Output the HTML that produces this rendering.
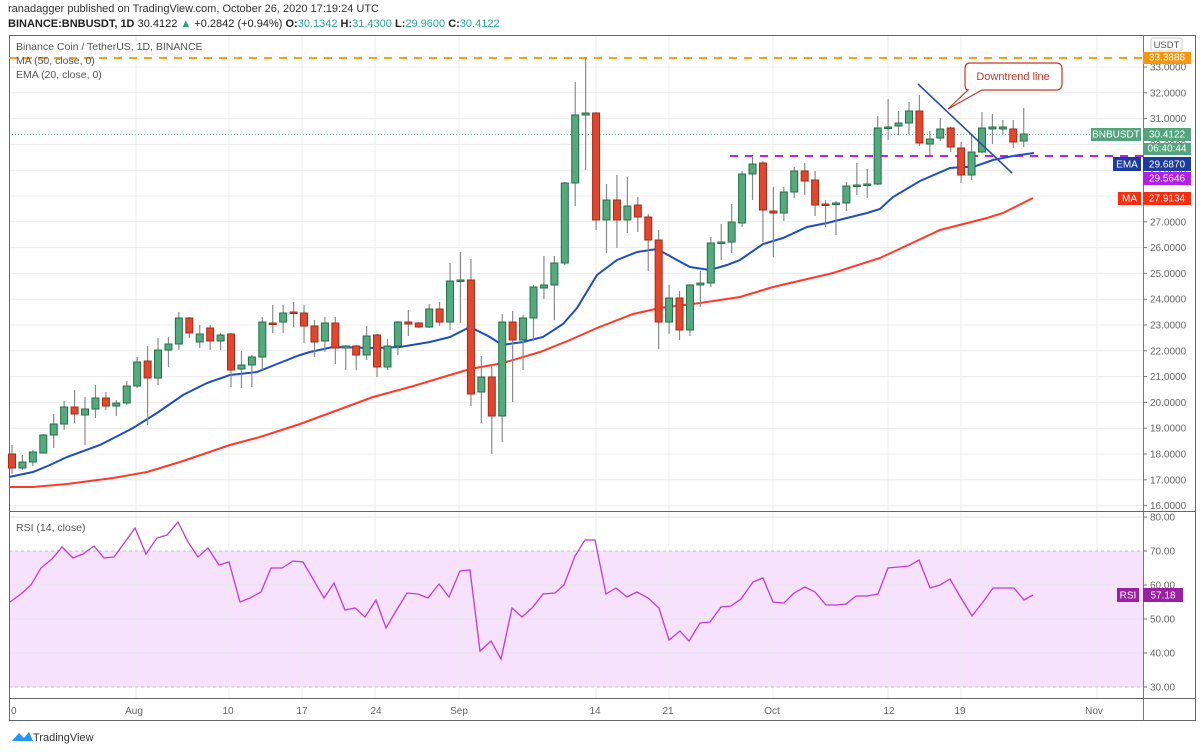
<!DOCTYPE html>
<html><head><meta charset="utf-8"><style>
html,body{margin:0;padding:0;background:#fff;width:1204px;height:752px;overflow:hidden}
svg{display:block;font-family:"Liberation Sans",sans-serif}
</style></head><body>
<svg id="s" width="1204" height="752" viewBox="0 0 1204 752" xmlns="http://www.w3.org/2000/svg">
<text x="8" y="12" font-size="11" fill="#333">ranadagger published on TradingView.com, October 26, 2020 17:19:24 UTC</text>
<text x="8" y="27" font-size="11" fill="#222"><tspan font-weight="bold">BINANCE:BNBUSDT, 1D</tspan> 30.4122 <tspan fill="#26a17b">▲</tspan> +0.2842 (+0.94%) <tspan font-weight="bold">O:</tspan><tspan fill="#26a69a">30.1342</tspan> <tspan font-weight="bold">H:</tspan><tspan fill="#26a69a">31.4300</tspan> <tspan font-weight="bold">L:</tspan><tspan fill="#26a69a">29.9600</tspan> <tspan font-weight="bold">C:</tspan><tspan fill="#26a69a">30.4122</tspan></text>
<g id="grid"></g>
<rect x="9" y="588" width="0" height="0"/>
<g id="main"></g>
</svg>
<script>
var NS="http://www.w3.org/2000/svg",S=document.getElementById('s'),G=document.getElementById('grid'),M=document.getElementById('main');
function el(p,t,a,txt){var e=document.createElementNS(NS,t);for(var k in a)e.setAttribute(k,a[k]);if(txt!=null)e.textContent=txt;p.appendChild(e);return e;}
function X(i){return 12+i*10.43;}
function Y(p){return 67+(33-p)*25.8;}
function R(r){return 517+(80-r)*3.4;}
// RSI fill
el(G,'rect',{x:9,y:R(70),width:1134,height:R(30)-R(70),fill:'#f6e2fc'});
// vertical grid
var vx=[136,229,302,375,459,596,669,773,888,961,1097];
vx.forEach(function(x){el(G,'line',{x1:x,y1:35,x2:x,y2:698,stroke:'#ececec','stroke-width':1});});
// horizontal grid price
for(var p=16;p<=33;p++){el(G,'line',{x1:9,y1:Y(p),x2:1143,y2:Y(p),stroke:'#ececec'});}
[80,60,50,40].forEach(function(r){el(G,'line',{x1:9,y1:R(r),x2:1143,y2:R(r),stroke:'#e6e6e6'});});
[70,30].forEach(function(r){el(G,'line',{x1:9,y1:R(r),x2:1143,y2:R(r),stroke:'#aaa','stroke-dasharray':'3,3','stroke-width':0.8});});
// frames
el(M,'rect',{x:9.5,y:35.5,width:1186,height:685,fill:'none',stroke:'#666'});
el(M,'line',{x1:1143.5,y1:35,x2:1143.5,y2:721,stroke:'#777'});
el(M,'line',{x1:9,y1:511.5,x2:1196,y2:511.5,stroke:'#666'});
el(M,'line',{x1:9,y1:698.5,x2:1196,y2:698.5,stroke:'#666'});
// levels
el(M,'line',{x1:9,y1:58,x2:1143,y2:58,stroke:'#f7a21b','stroke-width':2,'stroke-dasharray':'8,7'});
el(M,'line',{x1:730,y1:156,x2:1143,y2:156,stroke:'#b326f0','stroke-width':2,'stroke-dasharray':'8,7'});
el(M,'line',{x1:9,y1:134.5,x2:1143,y2:134.5,stroke:'#3fa07a','stroke-width':0.8,'stroke-dasharray':'1,2'});
// MA / EMA
var ma=[[9,487],[33,487],[67,484],[113,478],[147,472],[180,462],[230,445],[260,437],[300,424],[373,397],[410,387],[450,375],[470,369],[503,363],[540,352],[570,340],[597,328],[633,314],[660,308],[700,303],[740,297],[773,287],[833,273],[880,258],[940,230],[987,218],[1003,213],[1033,198]];
var ema=[[9,477],[33,472],[50,465],[67,457],[100,445],[133,428],[157,413],[183,395],[207,383],[230,375],[257,372],[277,364],[300,355],[310,352],[333,347],[373,348],[400,347],[430,342],[450,337],[470,327],[490,337],[502,345],[523,342],[543,337],[563,324],[577,308],[597,275],[617,260],[637,252],[657,249],[677,260],[690,267],[710,270],[727,265],[740,260],[763,244],[783,238],[807,227],[827,223],[847,218],[867,213],[880,209],[893,197],[920,181],[950,168],[963,167],[973,167],[993,160],[1013,156],[1034,153]];
function pl(a){return a.map(function(p){return p[0]+','+p[1]}).join(' ');}
el(M,'polyline',{points:pl(ma),fill:'none',stroke:'#ff3a2a','stroke-width':2});
el(M,'polyline',{points:pl(ema),fill:'none',stroke:'#1e4ec0','stroke-width':2});
// candles [top,bot,hi,lo,g]
var c=[[454,468,445,474,0],[462,468,455,470,1],[452,462,450,466,1],[435,453,434,453,1],[424,435,414,448,1],[407,424,401,430,1],[407,414,390,423,0],[409,415,397,445,1],[398,409,385,418,1],[398,406,392,410,0],[403,406,400,416,1],[386,403,381,405,1],[362,386,357,388,1],[361,378,346,425,0],[350,378,338,385,1],[344,350,337,367,1],[318,344,312,350,1],[318,333,317,338,0],[334,342,325,348,1],[328,341,325,350,0],[335,341,333,350,1],[334,370,333,387,0],[365,369,351,388,1],[357,365,355,387,1],[322,357,317,370,1],[323,324,305,333,0],[313,322,305,333,1],
[312,313,302,327,0],[313,326,305,343,0],[326,342,320,357,0],[323,341,317,352,1],[323,348,317,364,0],[346,348,345,370,1],[346,355,345,370,0],[336,355,326,360,1],[335,367,334,377,0],[346,367,339,370,1],[322,346,321,355,1],[322,324,310,336,0],[323,327,322,328,0],[309,327,304,328,1],[309,322,302,326,0],[281,322,263,330,1],[280,281,252,323,1],[280,394,259,406,0],[377,392,356,423,1],[377,416,365,454,0],[322,416,314,442,1],[322,340,311,402,0],[318,340,315,370,1],[287,318,285,341,1],[285,288,256,299,1],[263,285,256,320,1],[183,263,182,265,1],[115,183,82,206,1],[113,115,57,170,1],[113,220,112,230,0],
[200,220,184,253,1],[200,220,175,248,0],[206,220,177,233,1],[205,217,197,232,0],[217,240,214,271,0],[240,322,230,349,0],[298,322,285,334,1],[298,330,291,340,0],[285,330,284,336,1],[283,285,271,307,1],[243,283,237,287,1],[242,243,224,260,1],[222,242,204,253,1],[174,223,171,227,1],[164,174,156,200,1],[163,210,161,242,0],[211,213,187,257,0],[192,213,187,221,1],[171,192,167,198,1],[171,181,163,195,0],[180,205,171,216,0],[204,205,200,227,0],[203,204,201,235,1],[186,203,182,211,1],[185,186,163,195,1],[184,185,169,198,1],
[128,184,116,185,1],[127,128,99,140,1],[123,126,111,135,1],[111,123,102,134,1],[111,143,95,146,0],[139,144,131,155,1],[129,138,118,141,1],[128,147,127,152,0],[148,175,142,183,0],[152,175,135,180,1],[128,152,112,153,1],[127,129,114,144,1],[127,129,120,134,1],[129,142,120,148,0],[134,141,108,147,1]];
c.forEach(function(d,i){var x=X(i);
el(M,'line',{x1:x,y1:d[2],x2:x,y2:d[3],stroke:'#8a8a8a','stroke-width':1.2});
var h=Math.max(d[1]-d[0],1.5);
el(M,'rect',{x:x-3.5,y:d[0],width:7,height:h,fill:d[4]?'#55a97f':'#e2462c',stroke:d[4]?'#237047':'#a52a18','stroke-width':1});});
// downtrend
el(M,'line',{x1:918,y1:84,x2:1012,y2:173,stroke:'#2d4fa8','stroke-width':1.6});
el(M,'path',{d:'M970 63 H1056 Q1062 63 1062 69 V84 Q1062 90 1056 90 H982 L948 109 L968 90 Q965 90 965 84 V69 Q965 63 970 63 Z',fill:'#fff',stroke:'#c0392b','stroke-width':1.2});
el(M,'text',{x:1013,y:80,'font-size':11,fill:'#c0392b','text-anchor':'middle'},'Downtrend line');
// RSI
var rsi=[[10,602],[21,594],[31,585],[41,568],[52,559],[62,547],[73,558],[83,554],[94,546],[104,558],[114,557],[125,542],[135,528],[146,554],[157,538],[167,535],[178,522],[188,542],[198,557],[208,548],[219,565],[229,562],[240,602],[250,598],[261,592],[271,568],[282,568],[293,561],[303,562],[313,579],[324,598],[334,583],[345,610],[355,608],[365,617],[376,600],[386,628],[396,611],[407,593],[418,594],[428,598],[439,584],[449,597],[460,571],[470,570],[480,651],[491,641],[501,659],[512,608],[522,617],[533,607],[543,594],[555,593],[564,585],[575,556],[585,540],[595,540],[606,594],[616,588],[627,597],[637,592],[648,598],[659,608],[669,640],[680,631],[689,641],[700,623],[710,622],[721,607],[731,606],[741,599],[753,582],[763,578],[773,602],[784,603],[794,593],[805,587],[815,592],[826,605],[836,605],[846,604],[856,596],[867,596],[878,594],[888,568],[899,567],[909,566],[919,560],[930,588],[940,585],[950,579],[961,598],[972,616],[983,602],[993,588],[1004,588],[1014,588],[1024,600],[1033,595]];
el(M,'polyline',{points:pl(rsi),fill:'none',stroke:'#c23bd4','stroke-width':1.3});
// legends
[['Binance Coin / TetherUS, 1D, BINANCE',50],['MA (50, close, 0)',64],['EMA (20, close, 0)',78]].forEach(function(t){el(M,'text',{x:16,y:t[1],'font-size':10.5,fill:'#555'},t[0]);});
el(M,'text',{x:16,y:531,'font-size':10.5,fill:'#555'},'RSI (14, close)');
// price axis
for(var p=16;p<=33;p++){var y=Y(p);el(M,'line',{x1:1143,y1:y,x2:1147,y2:y,stroke:'#777'});el(M,'text',{x:1150,y:y+3.5,'font-size':10,fill:'#666'},p.toFixed(4));}
[80,70,60,50,40,30].forEach(function(r){var y=R(r);el(M,'line',{x1:1143,y1:y,x2:1147,y2:y,stroke:'#777'});el(M,'text',{x:1150,y:y+3.5,'font-size':10,fill:'#666'},r.toFixed(2));});
el(M,'rect',{x:1151,y:38,width:31,height:13,fill:'#fff',stroke:'#ccc',rx:2});
el(M,'text',{x:1166.5,y:48,'font-size':9.5,fill:'#555','text-anchor':'middle'},'USDT');
function tag(x,y,w,h,bg,txt,anchor){el(M,'rect',{x:x,y:y,width:w,height:h,fill:bg});el(M,'text',{x:x+w/2,y:y+h-3.5,'font-size':10,fill:'#fff','text-anchor':'middle'},txt);}
tag(1143,52,48,12,'#f7950f','33.3888');
tag(1091,128,50,13,'#53a57e','BNBUSDT');tag(1143,128,48,13,'#53a57e','30.4122');
tag(1143,143,48,12,'#53a57e','06:40:44');
tag(1113,157,28,14,'#1b3c9e','EMA');tag(1143,157,48,14,'#1b3c9e','29.6870');
tag(1143,172,48,13,'#b01ff0','29.5646');
tag(1118,192,23,13,'#fb2d10','MA');tag(1143,192,48,13,'#fb2d10','27.9134');
tag(1117,588,22,14,'#9c1ea5','RSI');tag(1143,588,40,14,'#9c1ea5','57.18');
// time axis
[['0',11],['Aug',134],['10',228],['17',302],['24',376],['Sep',459],['14',595],['21',668],['Oct',772],['12',889],['19',960],['Nov',1094]].forEach(function(t){el(M,'text',{x:t[1],y:714,'font-size':10,fill:'#666','text-anchor':t[0]=='0'?'start':'middle'},t[0]);});
// logo
el(M,'path',{d:'M12 741 L19 733 L24 738 L29 732 L33 741 Z',fill:'#2196f3'});
el(M,'text',{x:33,y:741,'font-size':11,fill:'#333'},'TradingView');
</script>
</body></html>
